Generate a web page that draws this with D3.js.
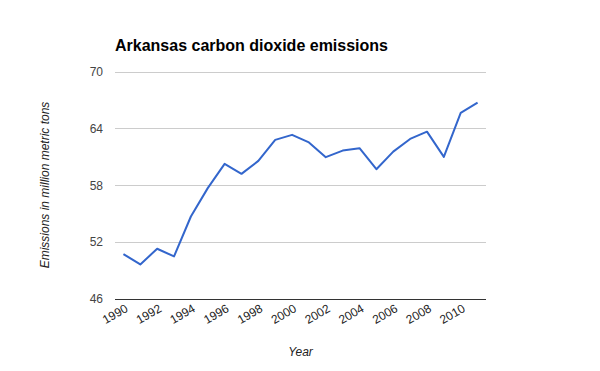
<!DOCTYPE html>
<html><head><meta charset="utf-8">
<script src="https://cdn.jsdelivr.net/npm/d3@7"></script>
<style>body{margin:0;background:#fff}svg{display:block;font-family:Arial,"Liberation Sans",sans-serif}</style>
</head><body>
<svg id="c" width="600" height="371"></svg>
<script>
const years = [1990,1991,1992,1993,1994,1995,1996,1997,1998,1999,2000,2001,2002,2003,2004,2005,2006,2007,2008,2009,2010,2011];
const emissions = [50.7,49.6,51.26,50.45,54.67,57.67,60.23,59.18,60.55,62.77,63.3,62.5,60.94,61.64,61.89,59.67,61.53,62.87,63.64,60.97,65.62,66.7];
const yTicks = [46,52,58,64,70];
const xTickLabels = [1990,1992,1994,1996,1998,2000,2002,2004,2006,2008,2010];
const title = "Arkansas carbon dioxide emissions";
const yTitle = "Emissions in million metric tons";
const xTitle = "Year";

const svg = d3.select("#c");
const L = 115, R = 486, T = 71.5, B = 298.5;
const x = d3.scalePoint().domain(years).range([L, R]).padding(0.5);
const y = d3.scaleLinear().domain([46, 70]).range([B, T]);

svg.append("text").attr("x", L).attr("y", 51).attr("font-size", 16).attr("font-weight", "bold").attr("fill", "#000").text(title);

const g = svg.append("g");
g.selectAll("line.grid").data(yTicks.filter(d => d !== 46)).join("line")
  .attr("x1", L).attr("x2", R).attr("y1", d => Math.round(y(d)) + 0.5).attr("y2", d => Math.round(y(d)) + 0.5)
  .attr("stroke", "#ccc").attr("stroke-width", 1);
g.append("line").attr("x1", L).attr("x2", R).attr("y1", Math.round(y(46)) + 0.5).attr("y2", Math.round(y(46)) + 0.5)
  .attr("stroke", "#333").attr("stroke-width", 1);

g.selectAll("text.yt").data(yTicks).join("text")
  .attr("x", 103).attr("y", d => y(d) + 4.5).attr("text-anchor", "end")
  .attr("font-size", 12).attr("fill", "#444").text(d => d);

g.selectAll("text.xt").data(xTickLabels).join("text")
  .attr("text-anchor", "end").attr("font-size", 12).attr("fill", "#222")
  .attr("transform", d => `translate(${x(d) + 1},${B + 5}) rotate(-30)`)
  .attr("dy", "0.71em").text(d => d);

svg.append("text").attr("x", (L + R) / 2).attr("y", 356).attr("text-anchor", "middle")
  .attr("font-size", 12).attr("font-style", "italic").attr("fill", "#222").text(xTitle);
svg.append("text").attr("transform", `translate(49,${(T + B) / 2}) rotate(-90)`).attr("text-anchor", "middle")
  .attr("font-size", 12).attr("font-style", "italic").attr("fill", "#222").text(yTitle);

const line = d3.line().x((d, i) => x(years[i])).y(d => y(d));
svg.append("path").datum(emissions).attr("d", line).attr("fill", "none")
  .attr("stroke", "#3366cc").attr("stroke-width", 2).attr("stroke-linejoin", "round");
</script>
</body></html>
